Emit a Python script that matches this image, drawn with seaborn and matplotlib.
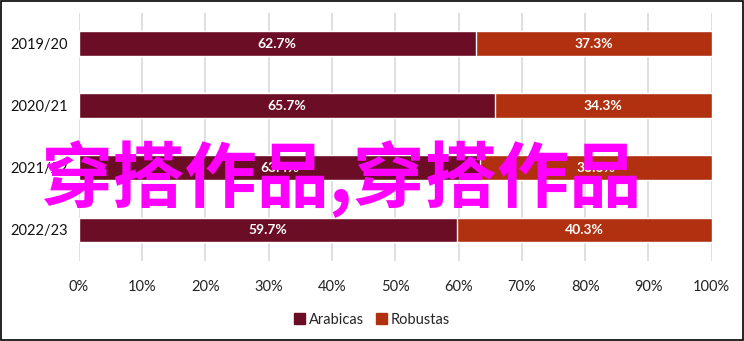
import matplotlib
matplotlib.use("Agg")
import matplotlib.pyplot as plt
import seaborn as sns
import pandas as pd
from matplotlib.patches import Rectangle, Patch

categories = ["2019/20", "2020/21", "2021/22", "2022/23"]
arabicas = [62.7, 65.7, 63.4, 59.7]
robustas = [37.3, 34.3, 36.6, 40.3]
xticks = [0, 10, 20, 30, 40, 50, 60, 70, 80, 90, 100]
xtick_labels = [f"{t}%" for t in xticks]
watermark = "穿搭作品,穿搭作品"

c_arab = "#6a0d25"
c_rob = "#b0300f"

sns.set_theme(style="white")
plt.rcParams['font.family'] = ['Lato', 'DejaVu Sans']

fig = plt.figure(figsize=(7.44, 3.41), dpi=100)
ax = fig.add_axes([0.106, 0.2346, 0.8506, 0.7284])

df = pd.DataFrame({"cat": categories, "arab": arabicas,
                   "total": [a + r for a, r in zip(arabicas, robustas)]})
sns.barplot(data=df, x="total", y="cat", color=c_rob, width=0.4, ax=ax,
            saturation=1, zorder=3)
sns.barplot(data=df, x="arab", y="cat", color=c_arab, width=0.4, ax=ax,
            saturation=1, zorder=3)

for i, (a, r) in enumerate(zip(arabicas, robustas)):
    ax.text(a / 2, i, f"{a:.1f}%", ha="center", va="center", color="white",
            fontsize=10, fontweight="bold", zorder=5)
    ax.text(a + r / 2, i, f"{r:.1f}%", ha="center", va="center", color="white",
            fontsize=10, fontweight="bold", zorder=5)

ax.set_xlim(0, 100)
ax.set_ylim(3.5, -0.5)
ax.set_xticks(xticks)
ax.set_xticklabels(xtick_labels, fontsize=10.5, color="#222222")
ax.tick_params(axis="x", pad=14, length=0)
ax.tick_params(axis="y", length=0, labelsize=10.5, labelcolor="#111111", pad=8)
ax.set_xlabel("")
ax.set_ylabel("")
ax.grid(axis="x", color="#d9d9d9", linewidth=1.2, zorder=0)
ax.grid(axis="y", visible=False)
for s in ax.spines.values():
    s.set_visible(False)

handles = [Patch(color=c_arab, label="Arabicas"), Patch(color=c_rob, label="Robustas")]
fig.legend(handles=handles, loc="center", bbox_to_anchor=(0.5, 0.062), ncol=2,
           frameon=False, fontsize=10.5, handlelength=0.75, handleheight=0.75,
           handletextpad=0.3, columnspacing=0.8)

fig.patches.append(Rectangle((0.0007, 0.0015), 0.9986, 0.997, transform=fig.transFigure,
                             fill=False, edgecolor="black", linewidth=1.2))

fig.text(0.458, 0.475, watermark, ha="center", va="center", color="#ff00ff",
         fontsize=52, fontweight="bold",
         family=["Noto Sans CJK SC", "DejaVu Sans"], zorder=10)

fig.savefig("out.png", dpi=100)
